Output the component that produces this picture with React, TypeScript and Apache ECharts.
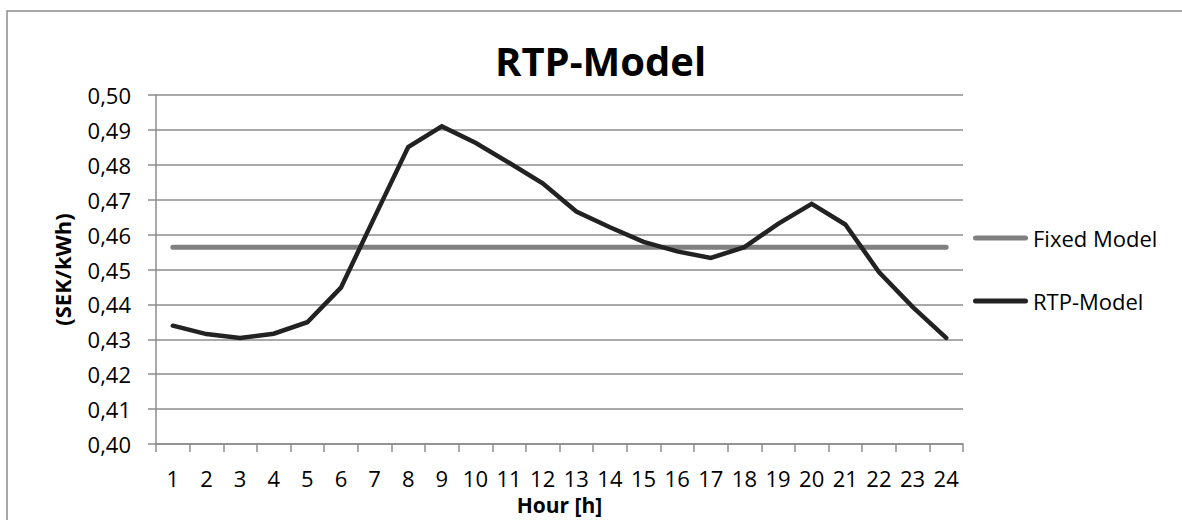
import React, { useEffect, useRef } from "react";
import * as echarts from "echarts";

const hours = ["1","2","3","4","5","6","7","8","9","10","11","12","13","14","15","16","17","18","19","20","21","22","23","24"];
const rtpModel = [0.4339, 0.4315, 0.4304, 0.4316, 0.4349, 0.4448, 0.4650, 0.4851, 0.4910, 0.4863, 0.4806, 0.4747, 0.4666, 0.4621, 0.4579, 0.4552, 0.4533, 0.4564, 0.4631, 0.4688, 0.4629, 0.4493, 0.4393, 0.4304];
const fixedModel = [0.4564, 0.4564, 0.4564, 0.4564, 0.4564, 0.4564, 0.4564, 0.4564, 0.4564, 0.4564, 0.4564, 0.4564, 0.4564, 0.4564, 0.4564, 0.4564, 0.4564, 0.4564, 0.4564, 0.4564, 0.4564, 0.4564, 0.4564, 0.4564];
const yMin = 0.4;
const yMax = 0.5;
const yStep = 0.01;

const FONT = "'Open Sans', sans-serif";
const legendIcon = "path://M2.5,0 H52.5 A2.5,2.5 0 0 1 52.5,5 H2.5 A2.5,2.5 0 0 1 2.5,0 Z";

export default function App() {
  const ref = useRef<HTMLDivElement>(null);
  useEffect(() => {
    if (!ref.current) return;
    const chart = echarts.init(ref.current, null, { renderer: "svg" });
    chart.setOption({
      animation: false,
      backgroundColor: "#ffffff",
      textStyle: { fontFamily: FONT },
      title: {
        text: "RTP-Model",
        left: 490,
        top: 35,
        textStyle: { fontFamily: FONT, fontSize: 40, fontWeight: "bold", color: "#000" },
      },
      graphic: [
        {
          type: "rect",
          z: -10,
          shape: { x: 7, y: 11, width: 1300, height: 700 },
          style: { fill: "none", stroke: "#8c8c8c", lineWidth: 1.5 },
        },
      ],
      legend: [
        {
          data: ["Fixed Model"],
          left: 968,
          top: 222,
          itemWidth: 55,
          itemHeight: 5,
          icon: legendIcon,
          textStyle: { fontFamily: FONT, fontSize: 22, color: "#000" },
        },
        {
          data: ["RTP-Model"],
          left: 968,
          top: 285,
          itemWidth: 55,
          itemHeight: 5,
          icon: legendIcon,
          textStyle: { fontFamily: FONT, fontSize: 22, color: "#000" },
        },
      ],
      grid: { left: 156, right: 219, top: 95, bottom: 73, containLabel: false },
      xAxis: {
        type: "category",
        data: hours,
        boundaryGap: true,
        name: "Hour [h]",
        nameLocation: "middle",
        nameGap: 50,
        nameTextStyle: { fontFamily: FONT, fontSize: 21, fontWeight: "bold", color: "#000" },
        axisLine: { lineStyle: { color: "#8c8c8c", width: 1.5 } },
        axisTick: { show: true, length: 8, inside: false, alignWithLabel: false, lineStyle: { color: "#8c8c8c", width: 1.5 } },
        axisLabel: { fontFamily: FONT, fontSize: 22, color: "#000", margin: 23, interval: 0 },
        splitLine: { show: false },
      },
      yAxis: {
        type: "value",
        min: yMin,
        max: yMax,
        interval: yStep,
        name: "(SEK/kWh)",
        nameLocation: "middle",
        nameGap: 83,
        nameTextStyle: { fontFamily: FONT, fontSize: 22, fontWeight: "bold", color: "#000" },
        axisLine: { show: true, lineStyle: { color: "#8c8c8c", width: 1.5 } },
        axisTick: { show: true, length: 8, inside: false, lineStyle: { color: "#8c8c8c", width: 1.5 } },
        axisLabel: {
          fontFamily: FONT,
          fontSize: 22,
          color: "#000",
          margin: 25,
          formatter: (v: number) => v.toFixed(2).replace(".", ","),
        },
        splitLine: { show: true, lineStyle: { color: "#8c8c8c", width: 1.5 } },
      },
      series: [
        {
          name: "Fixed Model",
          type: "line",
          data: fixedModel,
          symbol: "none",
          color: "#808080",
          lineStyle: { color: "#808080", width: 5, cap: "round" },
          z: 2,
        },
        {
          name: "RTP-Model",
          type: "line",
          data: rtpModel,
          symbol: "none",
          color: "#222222",
          lineStyle: { color: "#222222", width: 4.5, cap: "round", join: "miter" },
          z: 3,
        },
      ],
    });
    return () => chart.dispose();
  }, []);
  return (
    <div
      ref={ref}
      style={{ position: "fixed", left: 0, top: 0, width: 1182, height: 520 }}
    />
  );
}
